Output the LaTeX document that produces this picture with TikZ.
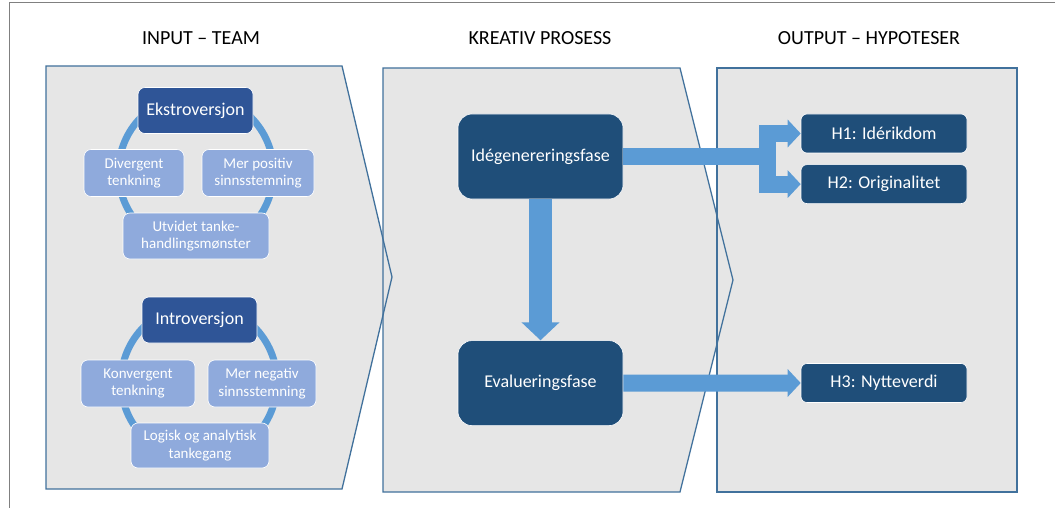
\documentclass[tikz,border=0pt]{standalone}
\usepackage{fontspec}
\setmainfont{Carlito}
\usepackage{tikz}
\usetikzlibrary{arrows.meta, positioning}
\definecolor{panelgray}{HTML}{E6E6E6}
\definecolor{paneledge}{HTML}{41719C}
\definecolor{ringblue}{HTML}{5B9BD5}
\definecolor{leadblue}{HTML}{2F5597}
\definecolor{traitblue}{HTML}{8FAADC}
\definecolor{phaseblue}{HTML}{1F4E79}
\tikzstyle{frame} = [draw=gray, line width=1pt]
\tikzstyle{panel} = [fill=panelgray]
\tikzstyle{edge} = [draw=paneledge, line width=1.3pt]
\tikzstyle{title} = [font=\fontsize{20}{24}\selectfont]
\tikzstyle{ring} = [draw=ringblue, line width=7pt]
\tikzstyle{lead} = [rectangle, fill=leadblue, draw=white, line width=0.6pt, text=white,
    rounded corners=7pt, minimum width=115pt, minimum height=46pt, inner sep=0pt,
    font=\fontsize{18}{21}\selectfont]
\tikzstyle{trait} = [rectangle, fill=traitblue, draw=white, line width=0.6pt, text=white,
    rounded corners=7pt, align=center, inner sep=0pt, minimum height=47pt,
    font=\fontsize{15}{17.5}\selectfont]
\tikzstyle{phase} = [rectangle, fill=phaseblue, draw=white, line width=0.6pt, text=white,
    rounded corners=14pt, minimum width=165pt, minimum height=85pt, inner sep=0pt,
    font=\fontsize{18}{21}\selectfont]
\tikzstyle{hypo} = [rectangle, fill=phaseblue, draw=white, line width=0.6pt, text=white,
    rounded corners=6pt, minimum width=166pt, minimum height=39pt, inner sep=0pt,
    font=\fontsize{18}{21}\selectfont]
\tikzstyle{fork} = [draw=ringblue, line width=17pt, -{Triangle[length=13pt, width=27pt]}]
\tikzstyle{down} = [draw=ringblue, line width=23pt, -{Triangle[length=18pt, width=37pt]}]

\begin{document}
\begin{tikzpicture}[x=1pt, y=-1pt]
        \useasboundingbox (0,0) rectangle (1055,508);
        \draw [frame] (9,508) -- (9,3) -- (1055,3);
        % Panels
        \fill [panel] (717,68) rectangle (1017,492);
        \fill [panel] (383,68) -- (680,68) -- (733,280) -- (680,492) -- (383,492) -- cycle;
        \fill [panel] (46,66) -- (342,66) -- (392,277) -- (342,489) -- (46,489) -- cycle;
        \draw [edge] (717,68) rectangle (1017,492);
        \draw [edge] (383,68) -- (680,68) -- (733,280) -- (680,492) -- (383,492) -- cycle;
        \draw [edge] (46,66) -- (342,66) -- (392,277) -- (342,489) -- (46,489) -- cycle;
        % Titles
        \node [title] (tinput) at (201,38) {INPUT – TEAM};
        \node [title] (tprocess) at (540,38) {KREATIV PROSESS};
        \node [title] (toutput) at (869,38) {OUTPUT – HYPOTESER};
        % Cycles
        \draw [ring] (196,172) circle (77.5pt);
        \draw [ring] (199,382) circle (78pt);
        % Place nodes
        \node [lead] (ekstro) at (195.5,110.5) {Ekstroversjon};
        \node [trait, minimum width=100pt] (divergent) at (134,173) {Divergent\\tenkning};
        \node [trait, minimum width=112pt] (positiv) at (258,173) {Mer positiv\\sinnsstemning};
        \node [trait, minimum width=146pt, minimum height=46pt] (utvidet) at (196,236) {Utvidet tanke-\\handlingsmønster};
        \node [lead] (intro) at (199.5,320) {Introversjon};
        \node [trait, minimum width=114pt] (konvergent) at (138,383.5) {Konvergent\\tenkning};
        \node [trait, minimum width=108pt] (negativ) at (262,383.5) {Mer negativ\\sinnsstemning};
        \node [trait, minimum width=138pt, minimum height=45pt] (logisk) at (200,445.5) {Logisk og analytisk\\tankegang};
        \node [phase] (ide) at (540.5,156.5) {Idégenereringsfase};
        \node [phase] (eva) [below =141pt of ide] {Evalueringsfase};
        \node [hypo] (h1) at (884,133.5) {H1: Idérikdom};
        \node [hypo] (h2) [below =11pt of h1] {H2: Originalitet};
        \node [hypo] (h3) at (884,383) {H3: Nytteverdi};
        \coordinate [right =144pt of ide.east] (split);
        % Draw edges
        \path [down] (ide.south) -- (eva.north);
        \path [fork] (ide.east) -- (split) |- (h1.west);
        \path [fork] (split) |- (h2.west);
        \path [fork] (eva.east) -- (h3.west);
    \end{tikzpicture}
\end{document}
